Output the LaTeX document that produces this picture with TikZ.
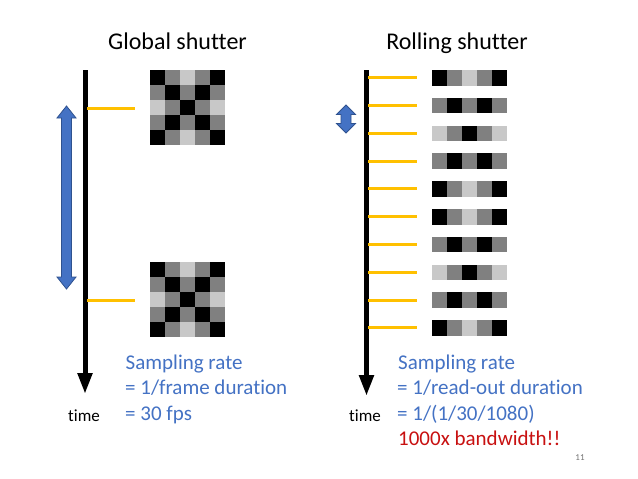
\documentclass[tikz,border=0pt]{standalone}
\usepackage{fontspec}
\setmainfont{Carlito}[Ligatures=NoCommon]
\usetikzlibrary{arrows.meta}
\definecolor{cB}{RGB}{0,0,0}
\definecolor{cG}{RGB}{128,128,128}
\definecolor{cL}{RGB}{200,200,200}
\definecolor{ofblue}{RGB}{68,114,196}
\definecolor{ofdark}{RGB}{47,82,143}
\definecolor{ofyellow}{RGB}{255,192,0}
\definecolor{ofred}{RGB}{200,16,16}
\newcommand\pixrow[4]{%
  \foreach \cc [count=\ii from 0] in {#4}
    \fill[\cc] ({#1+15*\ii},#2) rectangle ++(15,#3);}
\newcommand\pixboard[2]{%
  \pixrow{#1}{#2}{15}{cB,cG,cL,cG,cB}
  \pixrow{#1}{#2+15}{15}{cG,cB,cG,cB,cG}
  \pixrow{#1}{#2+30}{15}{cL,cG,cB,cG,cL}
  \pixrow{#1}{#2+45}{15}{cG,cB,cG,cB,cG}
  \pixrow{#1}{#2+60}{15}{cB,cG,cL,cG,cB}}
\newcommand\dblarrow[4]{% xc, ytop, ybot, headlen
  \path[bluearrow] (#1,#2) -- ({#1+9.5},{#2+#4}) -- ({#1+5},{#2+#4})
    -- ({#1+5},{#3-#4}) -- ({#1+9.5},{#3-#4}) -- (#1,#3)
    -- ({#1-9.5},{#3-#4}) -- ({#1-5},{#3-#4}) -- ({#1-5},{#2+#4})
    -- ({#1-9.5},{#2+#4}) -- cycle;}
\begin{document}
\begin{tikzpicture}[x=1pt,y=-1pt,
  title/.style={font=\fontsize{24}{29}\selectfont, anchor=base, inner sep=0pt},
  bluetext/.style={font=\fontsize{21}{25.5}\selectfont, text=ofblue, anchor=base west, inner sep=0pt},
  redtext/.style={font=\fontsize{21}{25.5}\selectfont, text=ofred, anchor=base west, inner sep=0pt},
  timelabel/.style={font=\fontsize{17}{20}\selectfont, anchor=base, inner sep=0pt},
  axisline/.style={line width=5pt, -{Triangle[width=14pt,length=21pt]}},
  yline/.style={draw=ofyellow, line width=3pt},
  bluearrow/.style={fill=ofblue, draw=ofdark, line width=0.8pt, line join=miter}]
\useasboundingbox[fill=white] (0,0) rectangle (638,479);

% titles
\node[title] (tglobal) at (177.5,49) {Global shutter};
\node[title] (trolling) at (457,49) {Rolling shutter};

% ---------- global shutter ----------
\pixboard{150}{70}
\pixboard{150}{262}
\coordinate (gtop) at (85,70);
\coordinate (gbot) at (85,394);
\draw[axisline] (gtop) -- (gbot);
\coordinate (gy1s) at (87,108);
\coordinate (gy1e) at (135,108);
\coordinate (gy2s) at (87,300);
\coordinate (gy2e) at (135,300);
\draw[yline] (gy1s) -- (gy1e);
\draw[yline] (gy2s) -- (gy2e);
\dblarrow{66.5}{106}{289}{12}
\node[timelabel] (gtime) at (84,421) {time};
\node[bluetext] (gs1) at (125.5,369) {Sampling rate};
\node[bluetext] (gs2) at (125,394.5) {= 1/frame duration};
\node[bluetext] (gs3) at (125,420) {= 30 fps};

% ---------- rolling shutter ----------
\pixrow{432}{70}{15.5}{cB,cG,cL,cG,cB}
\pixrow{432}{97.8}{15.5}{cG,cB,cG,cB,cG}
\pixrow{432}{125.6}{15.5}{cL,cG,cB,cG,cL}
\pixrow{432}{153.4}{15.5}{cG,cB,cG,cB,cG}
\pixrow{432}{181.2}{15.5}{cB,cG,cL,cG,cB}
\pixrow{432}{209}{15.5}{cB,cG,cL,cG,cB}
\pixrow{432}{236.8}{15.5}{cG,cB,cG,cB,cG}
\pixrow{432}{264.6}{15.5}{cL,cG,cB,cG,cL}
\pixrow{432}{292.4}{15.5}{cG,cB,cG,cB,cG}
\pixrow{432}{320.2}{15.5}{cB,cG,cL,cG,cB}
\coordinate (rtop) at (366.5,70);
\coordinate (rbot) at (366.5,396);
\draw[axisline] (rtop) -- (rbot);
\foreach \k in {0,...,9}{
  \coordinate (ry\k s) at (368,{77.75+27.8*\k});
  \coordinate (ry\k e) at (417,{77.75+27.8*\k});
  \draw[yline] (ry\k s) -- (ry\k e);
}
\dblarrow{346}{105}{133}{9.5}
\node[timelabel] (rtime) at (365,421) {time};
\node[bluetext] (rs1) at (398,369) {Sampling rate};
\node[bluetext] (rs2) at (397,394.5) {= 1/read-out duration};
\node[bluetext] (rs3) at (397,420) {= 1/(1/30/1080)};
\node[redtext] (rs4) at (398,445.5) {1000x bandwidth!!};

\node[font=\fontsize{9}{11}\selectfont, text=black!55, inner sep=0pt] (pnum) at (580,458) {11};
\end{tikzpicture}
\end{document}
